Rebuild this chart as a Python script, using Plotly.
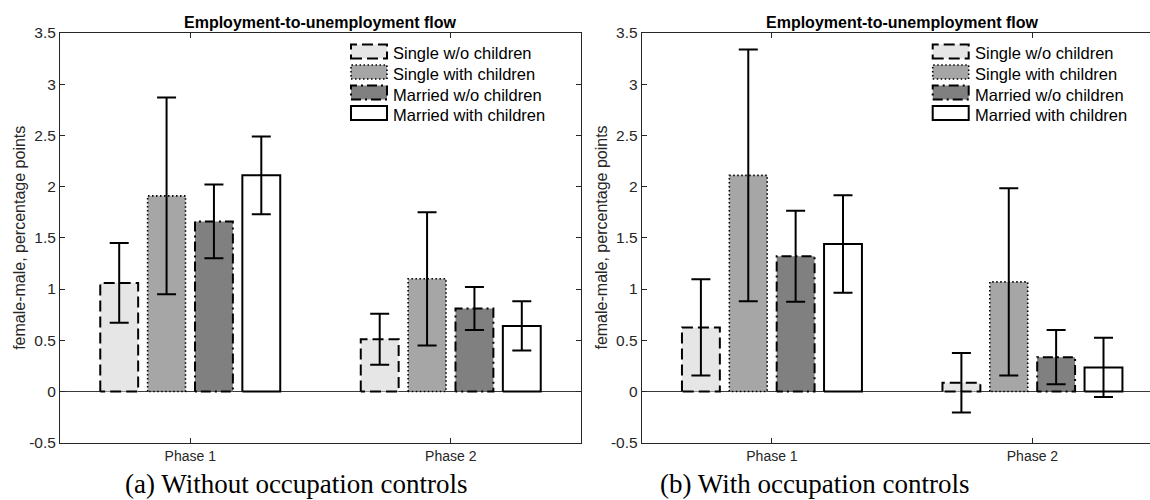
import plotly.graph_objects as go

W, H = 1150, 500

PHASES = ["Phase 1", "Phase 2"]
SERIES = ["Single w/o children", "Single with children",
          "Married w/o children", "Married with children"]

# (a) without occupation controls: female-male gap and half-width of the interval
A_SINGLE_NOKIDS = [1.06, 0.51]
A_SINGLE_KIDS = [1.91, 1.10]
A_MARRIED_NOKIDS = [1.66, 0.81]
A_MARRIED_KIDS = [2.11, 0.64]
A_ERR_SINGLE_NOKIDS = [0.39, 0.25]
A_ERR_SINGLE_KIDS = [0.96, 0.65]
A_ERR_MARRIED_NOKIDS = [0.36, 0.21]
A_ERR_MARRIED_KIDS = [0.38, 0.24]

# (b) with occupation controls
B_SINGLE_NOKIDS = [0.625, 0.085]
B_SINGLE_KIDS = [2.11, 1.07]
B_MARRIED_NOKIDS = [1.32, 0.335]
B_MARRIED_KIDS = [1.44, 0.235]
B_ERR_SINGLE_NOKIDS = [0.47, 0.29]
B_ERR_SINGLE_KIDS = [1.23, 0.915]
B_ERR_MARRIED_NOKIDS = [0.445, 0.265]
B_ERR_MARRIED_KIDS = [0.475, 0.29]

Y_TICKS = [-0.5, 0, 0.5, 1, 1.5, 2, 2.5, 3, 3.5]
Y_TICK_LABELS = ["-0.5", "0", "0.5", "1", "1.5", "2", "2.5", "3", "3.5"]

TITLE = "Employment-to-unemployment flow"
Y_TITLE = "female-male, percentage points"
CAPTIONS = ["(a) Without occupation controls", "(b) With occupation controls"]

# bar styling per series
FILLS = ["#e6e6e6", "#a6a6a6", "#808080", "#ffffff"]
DASHES = ["11px,5px", "1.5px,2.5px", "10px,4px,2px,4px", "solid"]
EDGE_W = [2, 1.6, 2, 2]

SANS = "Liberation Sans, Arial, Helvetica, sans-serif"
AXIS_COLOR = "#262626"

# pixel geometry of the two panels
Y_TOP_PX, Y_BOT_PX = 33, 442.7
LEFT_X0, LEFT_X1 = 60, 581
RIGHT_X0 = 641.7
PX_PER_UNIT = (LEFT_X1 - LEFT_X0) / 2.0


def px_x(px):
    return px / W


def px_y(px):
    return 1 - px / H


n = len(SERIES)
group_width = min(0.8, n / (n + 1.5))
step = group_width / n
offsets = [(i - (n - 1) / 2) * step for i in range(n)]
bar_w = 0.8 * step
centers = [i + 1 for i in range(len(PHASES))]

panels = [
    ("x", "y",
     [A_SINGLE_NOKIDS, A_SINGLE_KIDS, A_MARRIED_NOKIDS, A_MARRIED_KIDS],
     [A_ERR_SINGLE_NOKIDS, A_ERR_SINGLE_KIDS, A_ERR_MARRIED_NOKIDS, A_ERR_MARRIED_KIDS]),
    ("x2", "y2",
     [B_SINGLE_NOKIDS, B_SINGLE_KIDS, B_MARRIED_NOKIDS, B_MARRIED_KIDS],
     [B_ERR_SINGLE_NOKIDS, B_ERR_SINGLE_KIDS, B_ERR_MARRIED_NOKIDS, B_ERR_MARRIED_KIDS]),
]

fig = go.Figure()

for xa, ya, values, errors in panels:
    for s in range(n):
        xs = [c + offsets[s] for c in centers]
        fig.add_trace(go.Bar(
            x=xs, y=values[s], width=bar_w, name=SERIES[s],
            marker=dict(color=FILLS[s], line=dict(width=0)),
            error_y=dict(type="data", array=errors[s], visible=True,
                         color="black", thickness=2, width=9.5),
            xaxis=xa, yaxis=ya, showlegend=False, hoverinfo="skip",
        ))
    # bar outlines with line styles
    for s in range(n):
        ox, oy = [], []
        for c, v in zip(centers, values[s]):
            x0 = c + offsets[s] - bar_w / 2
            x1 = c + offsets[s] + bar_w / 2
            ox += [x0, x0, x1, x1, x0, None]
            oy += [0, v, v, 0, 0, None]
        fig.add_trace(go.Scatter(
            x=ox, y=oy, mode="lines",
            line=dict(color="black", width=EDGE_W[s], dash=DASHES[s]),
            xaxis=xa, yaxis=ya, showlegend=False, hoverinfo="skip",
        ))

axis_common = dict(
    showline=True, linecolor=AXIS_COLOR, linewidth=1,
    ticks="inside", ticklen=5, tickwidth=1, tickcolor=AXIS_COLOR,
    showgrid=False, automargin=False,
)
x_common = dict(axis_common, tickvals=centers, ticktext=PHASES, zeroline=False,
                tickfont=dict(family=SANS, size=14, color=AXIS_COLOR))
y_common = dict(axis_common, range=[-0.5, 3.5], tickvals=Y_TICKS, ticktext=Y_TICK_LABELS,
                zeroline=True, zerolinecolor="#3a3a3a", zerolinewidth=1,
                tickfont=dict(family=SANS, size=15.5, color=AXIS_COLOR))

y_dom = [px_y(Y_BOT_PX), px_y(Y_TOP_PX)]
right_span = (W - RIGHT_X0) / PX_PER_UNIT

fig.update_layout(
    template="none",
    width=W, height=H, autosize=False,
    margin=dict(l=0, r=0, t=0, b=0, pad=0),
    paper_bgcolor="white", plot_bgcolor="white",
    barmode="overlay",
    xaxis=dict(x_common, domain=[px_x(LEFT_X0), px_x(LEFT_X1)], range=[0.5, 2.5],
               mirror="ticks", anchor="y"),
    yaxis=dict(y_common, domain=y_dom, mirror="ticks", anchor="x"),
    xaxis2=dict(x_common, domain=[px_x(RIGHT_X0), 1.0], range=[0.5, 0.5 + right_span],
                mirror="ticks", anchor="y2"),
    yaxis2=dict(y_common, domain=y_dom, mirror=False, anchor="x2"),
)

annotations = []
shapes = []
panel_x0 = [LEFT_X0, RIGHT_X0]
panel_center = [(LEFT_X0 + LEFT_X1) / 2, RIGHT_X0 + PX_PER_UNIT]
caption_center = [296, 815]

for p in range(2):
    x0 = panel_x0[p]
    # title
    annotations.append(dict(
        text="<b>" + TITLE + "</b>", x=px_x(panel_center[p]), y=px_y(22),
        xref="paper", yref="paper", xanchor="center", yanchor="middle",
        showarrow=False, font=dict(family=SANS, size=16, color="black")))
    # y-axis title
    annotations.append(dict(
        text=Y_TITLE, x=px_x(x0 - 40), y=px_y((Y_TOP_PX + Y_BOT_PX) / 2),
        xref="paper", yref="paper", xanchor="center", yanchor="middle",
        textangle=-90, showarrow=False,
        font=dict(family=SANS, size=16, color=AXIS_COLOR)))
    # caption, sitting on the bottom edge of the figure
    annotations.append(dict(
        text=CAPTIONS[p], x=px_x(caption_center[p]), y=px_y(499.5),
        xref="paper", yref="paper", xanchor="center", yanchor="bottom",
        borderpad=0, showarrow=False,
        font=dict(family="Liberation Serif, Times New Roman, serif",
                  size=27, color="black")))
    # legend
    sw_x0 = x0 + 291
    sw_x1 = sw_x0 + 36
    for s in range(n):
        cy = 51.5 + s * 20.5
        shapes.append(dict(
            type="rect", xref="paper", yref="paper",
            x0=px_x(sw_x0), x1=px_x(sw_x1), y0=px_y(cy + 7), y1=px_y(cy - 7),
            fillcolor=FILLS[s],
            line=dict(color="black", width=EDGE_W[s], dash=DASHES[s])))
        annotations.append(dict(
            text=SERIES[s], x=px_x(sw_x1 + 4), y=px_y(cy + 2),
            xref="paper", yref="paper", xanchor="left", yanchor="middle",
            showarrow=False, font=dict(family=SANS, size=16.5, color="black")))

fig.update_layout(annotations=annotations, shapes=shapes)

fig.write_html("out.html")
